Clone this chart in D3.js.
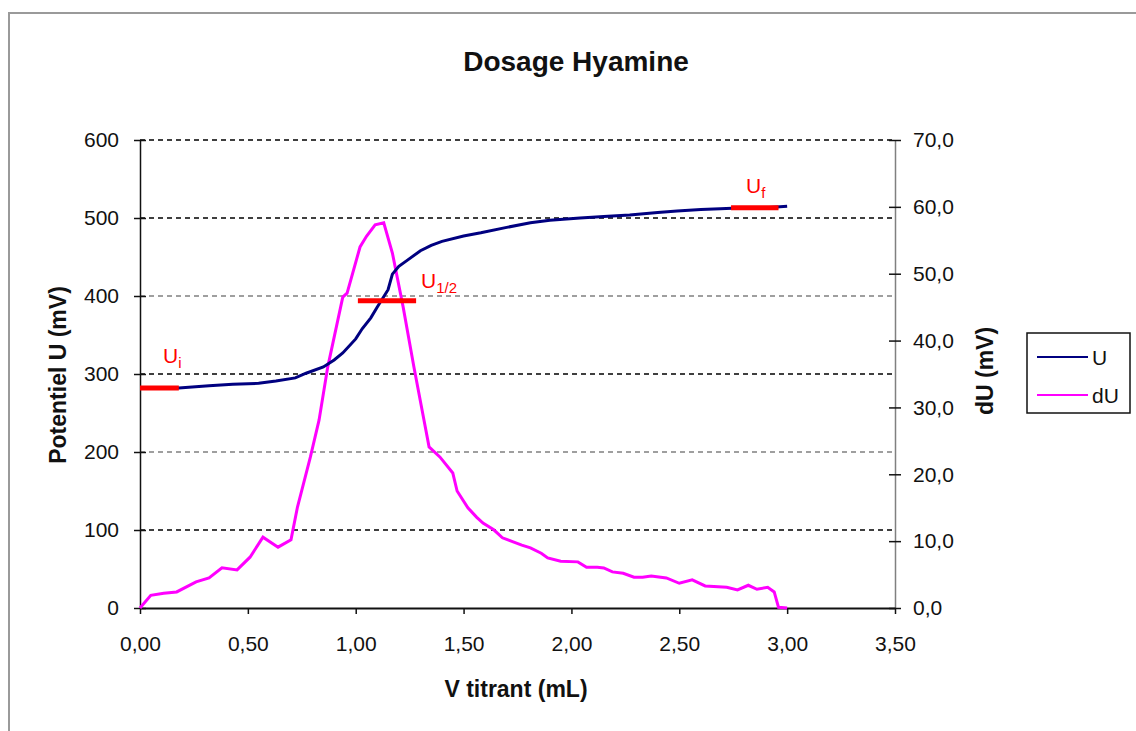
<!DOCTYPE html>
<html><head><meta charset="utf-8">
<script src="https://cdn.jsdelivr.net/npm/d3@7"></script>
<style>
html,body{margin:0;padding:0;background:#fff;}
svg{display:block;font-family:"Liberation Sans",Arial,sans-serif;}
</style></head>
<body><svg id="c" width="1136" height="731"></svg>
<script>
// ---- data ----
const title = "Dosage Hyamine";
const xLabel = "V titrant (mL)";
const yLeftLabel = "Potentiel U (mV)";
const yRightLabel = "dU (mV)";
const xTicks = [0, 0.5, 1, 1.5, 2, 2.5, 3, 3.5];
const yLeftTicks = [0, 100, 200, 300, 400, 500, 600];
const yRightTicks = [0, 10, 20, 30, 40, 50, 60, 70];
const seriesNames = ["U", "dU"];
const uX = [0, 0.18, 0.32, 0.43, 0.55, 0.63, 0.72, 0.77, 0.85, 0.90, 0.94, 1.00, 1.03, 1.07, 1.10, 1.15, 1.17, 1.20, 1.24, 1.30, 1.35, 1.40, 1.50, 1.58, 1.70, 1.81, 1.90, 2.04, 2.15, 2.27, 2.40, 2.49, 2.60, 2.69, 2.80, 2.90, 3.00];
const uY = [282, 282, 285, 287, 288, 291, 295, 301, 309, 318, 327, 345, 358, 372, 386, 408, 428, 438, 446, 458, 465, 470, 477, 481, 488, 494, 497, 500, 502, 504, 507, 509, 511, 512, 513, 513, 515];
const dX = [0, 0.05, 0.11, 0.17, 0.26, 0.32, 0.38, 0.45, 0.51, 0.57, 0.64, 0.70, 0.73, 0.79, 0.83, 0.87, 0.94, 0.96, 1.02, 1.05, 1.09, 1.13, 1.17, 1.22, 1.27, 1.31, 1.34, 1.39, 1.45, 1.47, 1.52, 1.56, 1.59, 1.64, 1.68, 1.73, 1.77, 1.81, 1.86, 1.89, 1.95, 2.03, 2.07, 2.12, 2.15, 2.19, 2.24, 2.29, 2.33, 2.37, 2.44, 2.50, 2.56, 2.62, 2.72, 2.77, 2.82, 2.86, 2.91, 2.94, 2.96, 3.00];
const dY = [0, 1.9, 2.2, 2.4, 3.9, 4.5, 6.0, 5.7, 7.6, 10.6, 9.1, 10.2, 15.1, 22.6, 28.1, 36.0, 46.5, 47.1, 54.0, 55.6, 57.3, 57.6, 53.1, 45.0, 36.0, 29.2, 24.1, 22.6, 20.2, 17.5, 15.0, 13.6, 12.7, 11.7, 10.5, 9.9, 9.4, 9.0, 8.2, 7.5, 7.0, 6.9, 6.1, 6.1, 6.0, 5.4, 5.2, 4.6, 4.6, 4.8, 4.5, 3.7, 4.2, 3.3, 3.1, 2.7, 3.4, 2.8, 3.1, 2.4, 0.1, 0];
// markers: [label, subscript, x0, x1, U]
const markerNames = ["U", "U", "U"];
const markerSubs = ["i", "1/2", "f"];
const markerX0 = [0, 1.01, 2.74];
const markerX1 = [0.18, 1.28, 2.96];
const markerU = [282, 394, 513];

// ---- chart ----
const svg = d3.select("#c");
const x = d3.scaleLinear().domain([0, 3.5]).range([140, 895]);
const yL = d3.scaleLinear().domain([0, 600]).range([608, 140]);
const yR = d3.scaleLinear().domain([0, 70]).range([608, 140]);
const loc = d3.formatLocale({decimal: ",", thousands: " ", grouping: [3], currency: ["", ""]});
const f2 = loc.format(".2f"), f1 = loc.format(".1f");

// frame
svg.append("path").attr("d", "M9,731 L9,13 L1136,13").attr("fill", "none").attr("stroke", "#9a9a9a").attr("stroke-width", 2);

// gridlines
const gridColors = ["#000", "#000", "#808080", "#000", "#808080", "#000"];
const gridVals = yLeftTicks.filter(v => v > 0);
svg.append("g").selectAll("line").data(gridVals).join("line")
  .attr("x1", x(0)).attr("x2", x(3.5))
  .attr("y1", d => yL(d)).attr("y2", d => yL(d))
  .attr("stroke", (d, i) => gridColors[5 - i])
  .attr("stroke-width", 1.5).attr("stroke-dasharray", "5,4");

// axes
const gL = svg.append("g").attr("transform", `translate(${x(0)},0)`)
  .call(d3.axisLeft(yL).tickValues(yLeftTicks).tickFormat(d3.format("d")).tickSizeInner(6).tickSizeOuter(0).tickPadding(15));
gL.selectAll(".tick line").attr("x1", 6).attr("x2", -6);
const gR = svg.append("g").attr("transform", `translate(${x(3.5)},0)`)
  .call(d3.axisRight(yR).tickValues(yRightTicks).tickFormat(f1).tickSizeInner(6).tickSizeOuter(0).tickPadding(12));
gR.selectAll(".tick line").attr("x1", -6).attr("x2", 6);
gR.select(".domain").attr("stroke", "#808080");
const gB = svg.append("g").attr("transform", `translate(0,${yL(0)})`)
  .call(d3.axisBottom(x).tickValues(xTicks).tickFormat(f2).tickSizeInner(6).tickSizeOuter(0).tickPadding(22));
[gL, gR, gB].forEach(g => {
  g.selectAll("text").attr("font-size", 21).attr("fill", "#111").attr("font-family", "Liberation Sans, Arial, sans-serif");
  g.selectAll(".tick line").attr("stroke", "#111").attr("stroke-width", 1.5);
});
gL.select(".domain").attr("stroke-width", 1.5).attr("stroke", "#111");
gR.select(".domain").attr("stroke-width", 1.5);
gB.select(".domain").attr("stroke-width", 2).attr("stroke", "#111");

// series
const uData = uX.map((v, i) => [v, uY[i]]);
const dData = dX.map((v, i) => [v, dY[i]]);
svg.append("path").datum(dData).attr("fill", "none").attr("stroke", "#FF00FF").attr("stroke-width", 3)
  .attr("d", d3.line().x(d => x(d[0])).y(d => yR(d[1])));
svg.append("path").datum(uData).attr("fill", "none").attr("stroke", "#000080").attr("stroke-width", 3)
  .attr("d", d3.line().x(d => x(d[0])).y(d => yL(d[1])));

// markers
const mk = svg.append("g");
markerU.forEach((u, i) => {
  mk.append("line").attr("x1", x(markerX0[i])).attr("x2", x(markerX1[i]))
    .attr("y1", yL(u)).attr("y2", yL(u)).attr("stroke", "#FF0000").attr("stroke-width", 5);
});
const lblPos = [[163, 363], [421, 288], [746, 193]];
markerU.forEach((u, i) => {
  const t = mk.append("text").attr("x", lblPos[i][0]).attr("y", lblPos[i][1])
    .attr("fill", "#FF0000").attr("font-size", 21);
  t.append("tspan").text(markerNames[i]);
  t.append("tspan").attr("font-size", 15).attr("dy", 5).text(markerSubs[i]);
});

// titles
svg.append("text").attr("x", 576).attr("y", 71).attr("text-anchor", "middle")
  .attr("font-size", 28).attr("font-weight", "bold").attr("fill", "#111").text(title);
svg.append("text").attr("x", 516).attr("y", 697).attr("text-anchor", "middle")
  .attr("font-size", 23).attr("font-weight", "bold").attr("fill", "#111").text(xLabel);
svg.append("text").attr("transform", "translate(66,375) rotate(-90)").attr("text-anchor", "middle")
  .attr("font-size", 23).attr("font-weight", "bold").attr("fill", "#111").text(yLeftLabel);
svg.append("text").attr("transform", "translate(993,371) rotate(-90)").attr("text-anchor", "middle")
  .attr("font-size", 23).attr("font-weight", "bold").attr("fill", "#111").text(yRightLabel);

// legend
const lg = svg.append("g");
lg.append("rect").attr("x", 1027).attr("y", 333).attr("width", 103).attr("height", 80)
  .attr("fill", "#fff").attr("stroke", "#111").attr("stroke-width", 1.5);
const lgColors = ["#000080", "#FF00FF"];
seriesNames.forEach((n, i) => {
  const yy = 357 + i * 38;
  lg.append("line").attr("x1", 1037).attr("x2", 1088).attr("y1", yy).attr("y2", yy)
    .attr("stroke", lgColors[i]).attr("stroke-width", 2);
  lg.append("text").attr("x", 1092).attr("y", yy + 8).attr("font-size", 21).attr("fill", "#111").text(n);
});
</script></body></html>
